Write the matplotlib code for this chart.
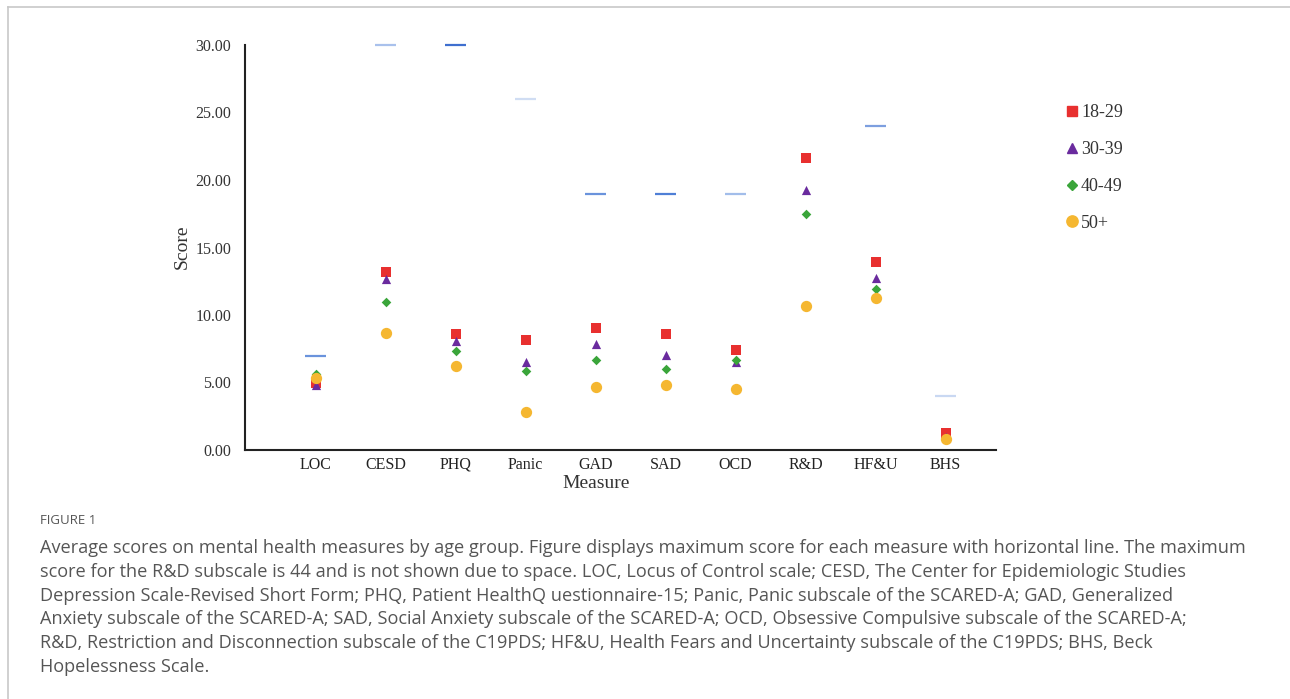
import matplotlib
matplotlib.use("Agg")
import matplotlib.pyplot as plt
from matplotlib.lines import Line2D
import numpy as np

measures = ["LOC", "CESD", "PHQ", "Panic", "GAD", "SAD", "OCD", "R&D", "HF&U", "BHS"]
max_scores = [7, 30, 30, 26, 19, 19, 19, np.nan, 24, 4]
age_18_29 = [4.95, 13.2, 8.6, 8.17, 9.04, 8.6, 7.41, 21.65, 13.93, 1.23]
age_30_39 = [4.8, 12.67, 8.05, 6.49, 7.83, 7.04, 6.54, 19.23, 12.77, 0.95]
age_40_49 = [5.6, 10.94, 7.36, 5.83, 6.69, 6.0, 6.67, 17.48, 11.93, 0.9]
age_50_plus = [5.3, 8.67, 6.22, 2.84, 4.69, 4.84, 4.52, 10.67, 11.23, 0.81]
group_labels = ["18-29", "30-39", "40-49", "50+"]
max_line_colors = ["#6a93dc", "#a9c1ec", "#3f6fcf", "#d0ddf3", "#6a93dc",
                   "#4f7fd6", "#a2bdea", "#6a93dc", "#7d9fdf", "#c9d8f2"]

caption_title = "FIGURE 1"
caption_lines = [
    "Average scores on mental health measures by age group. Figure displays maximum score for each measure with horizontal line. The maximum",
    "score for the R&D subscale is 44 and is not shown due to space. LOC, Locus of Control scale; CESD, The Center for Epidemiologic Studies",
    "Depression Scale-Revised Short Form; PHQ, Patient HealthQ uestionnaire-15; Panic, Panic subscale of the SCARED-A; GAD, Generalized",
    "Anxiety subscale of the SCARED-A; SAD, Social Anxiety subscale of the SCARED-A; OCD, Obsessive Compulsive subscale of the SCARED-A;",
    "R&D, Restriction and Disconnection subscale of the C19PDS; HF&U, Health Fears and Uncertainty subscale of the C19PDS; BHS, Beck",
    "Hopelessness Scale.",
]

series = [age_18_29, age_30_39, age_40_49, age_50_plus]
markers = ["s", "^", "D", "o"]
colors = ["#e8302f", "#6a2b9e", "#3aa53a", "#f5b731"]
sizes = [52, 44, 24, 66]

W, H = 1290, 699
fig = plt.figure(figsize=(W / 100, H / 100), dpi=100)
serif = ["Liberation Serif", "DejaVu Serif"]

ax = fig.add_axes([245 / W, 1 - 450 / H, (996 - 245) / W, (450 - 45) / H])
x = np.arange(len(measures))

# max score lines
for xi, m, c in zip(x, max_scores, max_line_colors):
    if not np.isnan(m):
        ax.hlines(m, xi - 0.15, xi + 0.15, colors=c, linewidth=1.6, clip_on=False, zorder=2)

for vals, mk, c, s in zip(series, markers, colors, sizes):
    ax.scatter(x, vals, marker=mk, color=c, s=s, linewidths=0, zorder=3, clip_on=False)

ax.set_xlim(-1.01, 9.72)
ax.set_ylim(0, 30)
ax.set_yticks(np.arange(0, 30.1, 5))
ax.set_yticklabels([f"{v:.2f}" for v in np.arange(0, 30.1, 5)], fontfamily=serif, fontsize=11.5, color="#333333")
ax.set_xticks(x)
ax.set_xticklabels(measures, fontfamily=serif, fontsize=11.5, color="#222222")
ax.tick_params(axis="both", length=0)
ax.tick_params(axis="y", pad=10)
ax.tick_params(axis="x", pad=5)
for side in ["top", "right"]:
    ax.spines[side].set_visible(False)
for side in ["left", "bottom"]:
    ax.spines[side].set_linewidth(1.5)
    ax.spines[side].set_color("#222222")

fig.text(182 / W, 1 - 247 / H, "Score", rotation=90, ha="center", va="center",
         fontfamily=serif, fontsize=14, color="#333333")
fig.text(596 / W, 1 - 484 / H, "Measure", ha="center", va="center",
         fontfamily=serif, fontsize=14, color="#333333")

handles = [Line2D([], [], linestyle="none", marker=mk, color=c, markersize=np.sqrt(s))
           for mk, c, s in zip(markers, colors, sizes)]
leg = fig.legend(handles, group_labels, loc="upper left", bbox_to_anchor=(1054 / W, 1 - 97 / H),
                 frameon=False, handletextpad=-0.1, labelspacing=1.1, handlelength=1.2,
                 borderaxespad=0, prop={"family": serif, "size": 13})
for t in leg.get_texts():
    t.set_color("#333333")

# border lines
fig.add_artist(Line2D([8 / W, 8 / W], [0, 1 - 7 / H], color="#c8c8c8", linewidth=1.2))
fig.add_artist(Line2D([8 / W, 1], [1 - 7 / H, 1 - 7 / H], color="#c8c8c8", linewidth=1.2))

cap_font = ["Open Sans", "DejaVu Sans"]
fig.text(40 / W, 1 - 520 / H, caption_title, ha="left", va="center", fontfamily=cap_font,
         fontsize=9.5, color="#555555")
for i, line in enumerate(caption_lines):
    fig.text(40 / W, 1 - (548 + i * 23.8) / H, line, ha="left", va="center",
             fontfamily=cap_font, fontsize=13.05, color="#555555")

fig.savefig("out.png", dpi=100, facecolor="white")
